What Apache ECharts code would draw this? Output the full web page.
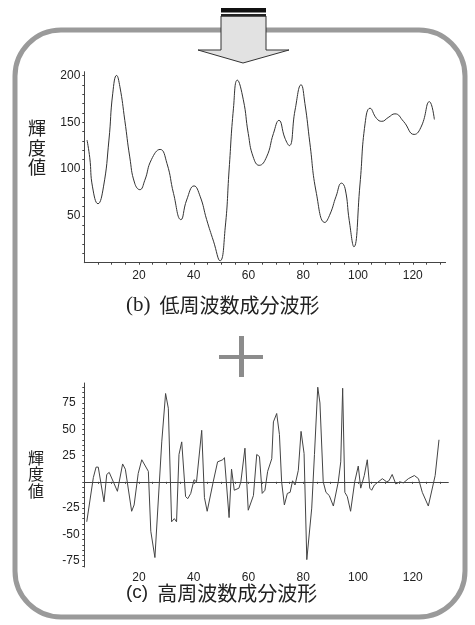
<!DOCTYPE html>
<html>
<head>
<meta charset="utf-8">
<script src="https://cdn.jsdelivr.net/npm/echarts@6/dist/echarts.min.js"></script>
<style>
  html, body { margin: 0; padding: 0; background: #fff; }
  #chart { width: 475px; height: 625px; }
</style>
</head>
<body>
<div id="chart"></div>
<script>
// (b) low-frequency component (x = sample index, y = luminance)
const lowX = [1, 2, 3, 5, 7, 9, 10.4, 11.8, 13, 14.8, 16.6, 18.4, 20.3, 22.1, 24.5, 27.7, 30.2, 32.6, 35.3, 37.4, 40.1, 42.3, 44.7, 47.2, 49.6, 51.5, 52.9, 54.5, 55.9, 58.1, 59.9, 61.7, 63.9, 66.6, 69.1, 71.1, 73.3, 74.9, 77, 79.2, 80.6, 82.4, 84.8, 87.9, 89.8, 92, 94, 95.3, 96.8, 98.5, 100.7, 102.6, 104.4, 106.8, 108.7, 111, 113.5, 116.6, 120.5, 123.2, 126.1, 127.9];
const lowY = [131, 112, 81, 63, 81, 131, 181, 200, 188, 152, 113, 85, 78, 88, 110, 121, 106, 74, 46, 67, 82, 71, 46, 23, 2, 38, 99, 165, 195, 174, 138, 113, 104, 113, 138, 152, 133, 125, 163, 190, 170, 128, 74, 43, 52, 71, 85, 79, 45, 17, 83, 149, 165, 154, 151, 155, 159, 151, 137, 146, 172, 153];

// (c) high-frequency component vertices
const highX = [0.9, 3.3, 4.3, 5.1, 7.2, 8.2, 9.1, 12.1, 14, 15, 17.3, 18.2, 19.7, 21, 23.4, 24.3, 25.8, 28.3, 29.7, 30.7, 31.9, 32.9, 33.7, 34.6, 35.6, 37, 37.8, 38.9, 40.1, 41, 42.9, 43.9, 44.9, 47.1, 48.7, 50.6, 51.2, 52.9, 53.8, 54.8, 56.5, 57.2, 58.7, 59.9, 61.8, 63, 64, 65, 66, 67, 68.5, 69.1, 70.3, 71.3, 72.1, 73.1, 74.2, 75.2, 76.1, 77, 78.2, 79.2, 80.3, 81.3, 83.1, 84.1, 85.3, 86.1, 87.3, 88.3, 89.5, 91, 92.8, 93.7, 94.4, 95.2, 96.1, 97.3, 98.8, 100.1, 101, 102.3, 103.4, 104.3, 105, 106, 108.9, 110.5, 111.3, 112.5, 113.8, 115.3, 116.6, 118.4, 120.6, 122.1, 123.5, 125.7, 128.2, 129.6];
const highY = [-38, 4, 14, 14, -19, 7, 9, -9, 17, 12, -28, -22, 8, 21, 10, -47, -72, 38, 84, 70, -38, -35, -38, 26, 38, -14, -16, -11, 2, 0, 49, -15, -28, 0, 19, 21, 23, -34, 12, -8, -6, 0, 32, -27, -13, 26, 24, -11, -8, 10, 22, 57, 65, 45, 0, -22, -11, -10, 1, -3, 11, 48, 27, -74, -25, 26, 90, 75, 0, -10, -13, -23, 0, 19, 89, -10, -14, -28, 0, 15, -6, 6, 21, -6, -8, -3, 3, 0, 1, 7, -2, 0, -1, 3, 6, 3, -10, -23, 6, 40];

const lowTicks = [50, 100, 150, 200];
const highTicks = [-75, -50, -25, 25, 50, 75];
const xTicks = [20, 40, 60, 80, 100, 120];

const zip = (xs, ys) => xs.map((x, i) => [x, ys[i]]);
const steps = (a, b, s) => { const out = []; for (let v = a; v <= b; v += s) out.push(v); return out; };

const labelFont = { fontFamily: 'Liberation Sans', fontSize: 12, color: '#222' };
const cjk = '"Noto Sans CJK JP"';

const chart = echarts.init(document.getElementById('chart'), null, { renderer: 'canvas' });

chart.setOption({
  animation: false,
  backgroundColor: '#fff',
  grid: [
    { left: 84.3, right: 29.4, top: 71.7, bottom: 362.3 },
    { left: 84.3, right: 26.7, top: 383, bottom: 58 }
  ],
  xAxis: [
    {
      gridIndex: 0, type: 'value', min: 0, max: 132,
      axisLine: { show: true, lineStyle: { color: '#444', width: 1 } },
      axisTick: { show: true, customValues: steps(5, 130, 5), length: 2, lineStyle: { color: '#444' } },
      axisLabel: { customValues: xTicks, margin: 7, ...labelFont },
      splitLine: { show: false }
    },
    {
      gridIndex: 1, type: 'value', min: 0, max: 133,
      axisLine: { show: true, onZero: true, lineStyle: { color: '#444', width: 1 } },
      axisTick: { show: true, customValues: steps(5, 130, 5), length: 2, lineStyle: { color: '#444' } },
      axisLabel: { customValues: xTicks, margin: 5, ...labelFont },
      splitLine: { show: false }
    }
  ],
  yAxis: [
    {
      gridIndex: 0, type: 'value', min: 0, max: 204,
      axisLine: { show: true, lineStyle: { color: '#444', width: 1 } },
      axisTick: { show: true, customValues: steps(10, 200, 10), length: 2, lineStyle: { color: '#444' } },
      axisLabel: { customValues: lowTicks, margin: 4, ...labelFont },
      splitLine: { show: false }
    },
    {
      gridIndex: 1, type: 'value', min: -81, max: 94,
      axisLine: { show: true, lineStyle: { color: '#444', width: 1 } },
      axisTick: { show: true, customValues: steps(-80, 90, 5), length: 2, lineStyle: { color: '#444' } },
      axisLabel: { customValues: highTicks, margin: 22, align: 'left', ...labelFont },
      splitLine: { show: false }
    }
  ],
  series: [
    {
      type: 'line', xAxisIndex: 0, yAxisIndex: 0,
      data: zip(lowX, lowY),
      smooth: 0.5, showSymbol: false,
      lineStyle: { color: '#333', width: 1 }
    },
    {
      type: 'line', xAxisIndex: 1, yAxisIndex: 1,
      data: zip(highX, highY),
      showSymbol: false,
      lineStyle: { color: '#444', width: 1 }
    }
  ],
  graphic: [
    // rounded frame
    { type: 'rect', z: -10, shape: { x: 15, y: 30, width: 450, height: 587, r: 46 },
      style: { fill: 'none', stroke: '#9a9a9a', lineWidth: 5 } },
    // down arrow
    { type: 'polygon', z: 10,
      shape: { points: [[221, 16], [266, 16], [266, 50], [289, 50], [243, 63], [198, 50], [221, 50]] },
      style: { fill: '#e2e2e2', stroke: '#333', lineWidth: 1 } },
    { type: 'rect', z: 11, shape: { x: 221, y: 8, width: 45, height: 4.5 }, style: { fill: '#111' } },
    { type: 'rect', z: 11, shape: { x: 221, y: 14, width: 45, height: 2.5 }, style: { fill: '#222' } },
    // plus sign
    { type: 'rect', shape: { x: 219, y: 355, width: 44, height: 4 }, style: { fill: '#8c8c8c' } },
    { type: 'rect', shape: { x: 239, y: 336, width: 5, height: 41 }, style: { fill: '#8c8c8c' } },
    // axis names
    { type: 'text', style: { text: '輝\n度\n値', x: 37, y: 148, align: 'center', verticalAlign: 'middle',
      fontFamily: cjk, fontSize: 18, lineHeight: 19.5, fill: '#222' } },
    { type: 'text', style: { text: '輝\n度\n値', x: 36, y: 474, align: 'center', verticalAlign: 'middle',
      fontFamily: cjk, fontSize: 16, lineHeight: 16.5, fill: '#222' } },
    // captions
    { type: 'text', style: { text: '{a|(b)}{b|低周波数成分波形}', x: 126, y: 305, align: 'left', verticalAlign: 'middle',
      rich: { a: { fontFamily: 'Liberation Serif', fontSize: 21, fill: '#222', padding: [0, 9, 0, 0] },
              b: { fontFamily: cjk, fontSize: 20, fill: '#222' } } } },
    { type: 'text', style: { text: '{a|(c)}{b|高周波数成分波形}', x: 126, y: 593, align: 'left', verticalAlign: 'middle',
      rich: { a: { fontFamily: 'Liberation Sans', fontSize: 19, fill: '#222', padding: [0, 9, 0, 0] },
              b: { fontFamily: cjk, fontSize: 20, fill: '#222' } } } }
  ]
});
</script>
</body>
</html>
